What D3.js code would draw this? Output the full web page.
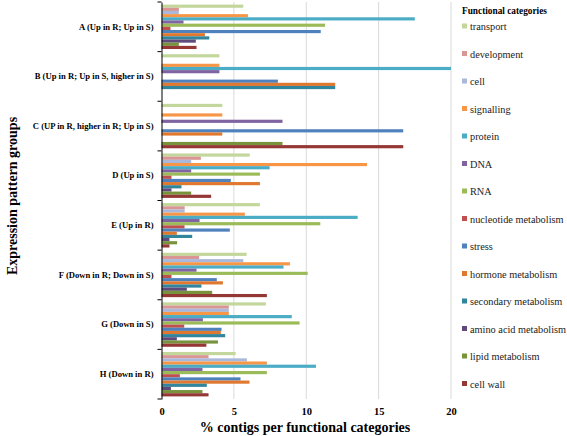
<!DOCTYPE html>
<html><head><meta charset="utf-8">
<script src="https://cdn.jsdelivr.net/npm/d3@7/dist/d3.min.js"></script>
<style>body{margin:0;background:#fff;}</style>
</head><body><svg id="c" width="567" height="436"></svg>
<script>
const groups = ["A (Up in R; Up in S)","B (Up in R; Up in S, higher in S)","C (UP in R, higher in R; Up in S)","D (Up in S)","E (Up in R)","F (Down in R; Down in S)","G (Down in S)","H (Down in R)"];
const categories = ["transport","development","cell","signalling","protein","DNA","RNA","nucleotide metabolism","stress","hormone metabolism","secondary metabolism","amino acid metabolism","lipid metabolism","cell wall"];
const colors = ["#c3d69b","#d99694","#aab8dc","#f79646","#4bacc6","#8064a2","#9bbb59","#c0504d","#4f81bd","#e0782f","#31859c","#604a7b","#77933c","#953735"];
// values per group, in category order
const valuesA = [5.65,1.2,1.2,5.97,17.5,1.52,11.3,0.62,11.0,3.0,3.3,2.37,1.2,2.42];
const valuesB = [4.0,0,0,4.0,20.0,4.0,0,0,8.04,12.0,12.0,0,0,0];
const valuesC = [4.2,0,0,4.2,0,8.36,0,0,16.7,4.2,0,0,8.36,16.7];
const valuesD = [6.1,2.72,2.05,14.2,7.47,2.05,6.8,0.69,4.79,6.8,1.38,0.69,2.05,3.43];
const valuesE = [6.8,1.6,1.6,5.76,13.55,2.63,10.97,1.59,4.72,1.06,2.12,0.55,1.08,0.55];
const valuesF = [5.88,2.6,5.65,8.87,8.43,2.42,10.1,0.69,3.82,4.24,2.76,1.75,3.5,7.28];
const valuesG = [7.21,4.65,4.65,4.65,9.0,2.86,9.54,1.57,4.15,4.1,4.4,1.06,3.9,3.1];
const valuesH = [5.12,3.25,5.9,7.28,10.67,2.83,7.28,1.27,5.46,6.08,3.13,0.65,2.83,3.25];
const xTicks = [0,5,10,15,20];

const allValues = [valuesA,valuesB,valuesC,valuesD,valuesE,valuesF,valuesG,valuesH];
const FONT = "'Liberation Serif'";
const svg = d3.select("#c");
const L = 161.5, R = 451, T = 2, B = 399;
const x = d3.scaleLinear().domain([0,20]).range([L,R]);
const y = d3.scaleBand().domain(groups).range([T,B]).padding(0);
const yi = d3.scaleBand().domain(categories).range([0,y.bandwidth()]).paddingInner(0).paddingOuter(0.82);

// gridlines
svg.append("g").selectAll("line").data(xTicks.filter(d=>d>0)).join("line")
  .attr("x1",d=>x(d)).attr("x2",d=>x(d)).attr("y1",T).attr("y2",B)
  .attr("stroke","#d9d9d9").attr("stroke-width",1);

// bars
const gg = svg.append("g").selectAll("g").data(groups).join("g")
  .attr("transform",d=>`translate(0,${y(d)})`);
gg.selectAll("rect").data((g,i)=>categories.map((c,j)=>({c,j,v:allValues[i][j]}))).join("rect")
  .attr("x",x(0)).attr("y",d=>yi(d.c)).attr("height",yi.bandwidth())
  .attr("width",d=>x(d.v)-x(0)).attr("fill",d=>colors[d.j]);

// y axis
const ya = svg.append("g").attr("transform",`translate(${L},0)`)
  .call(d3.axisLeft(y).tickSize(0).tickPadding(8));
ya.select(".domain").attr("stroke","#000");
ya.selectAll("text").style("font-family",FONT).attr("font-size",8.6).attr("font-weight","bold").attr("fill","#000");
// group boundary ticks
const bounds = groups.map(g=>y(g)).concat([B]);
svg.append("g").selectAll("line").data(bounds).join("line")
  .attr("x1",L-4).attr("x2",L).attr("y1",d=>d).attr("y2",d=>d).attr("stroke","#000");

// x axis
const xa = svg.append("g").attr("transform",`translate(0,${B})`)
  .call(d3.axisBottom(x).tickValues(xTicks).tickSize(0).tickPadding(9));
xa.select(".domain").remove();
xa.selectAll("text").style("font-family",FONT).attr("font-size",10.5).attr("font-weight","bold").attr("fill","#000");

// axis titles
svg.append("text").style("font-family",FONT).attr("x",305).attr("y",432).attr("text-anchor","middle")
  .attr("font-size",14).attr("font-weight","bold").text("% contigs per functional categories");
svg.append("text").style("font-family",FONT).attr("transform","translate(17,196) rotate(-90)").attr("text-anchor","middle")
  .attr("font-size",14).attr("font-weight","bold").text("Expression pattern groups");

// legend
const lg = svg.append("g");
lg.append("text").style("font-family",FONT).attr("x",462).attr("y",14).attr("font-size",9.3).attr("font-weight","bold")
  .text("Functional categories");
const li = lg.selectAll("g.it").data(categories).join("g").attr("class","it")
  .attr("transform",(d,i)=>`translate(462,${27 + i*27.5})`);
li.append("rect").attr("x",0).attr("y",-3.5).attr("width",5).attr("height",5).attr("fill",(d,i)=>colors[i]);
li.append("text").style("font-family",FONT).attr("x",8).attr("y",3).attr("font-size",10.3).attr("fill","#222").text(d=>d);
</script></body></html>
